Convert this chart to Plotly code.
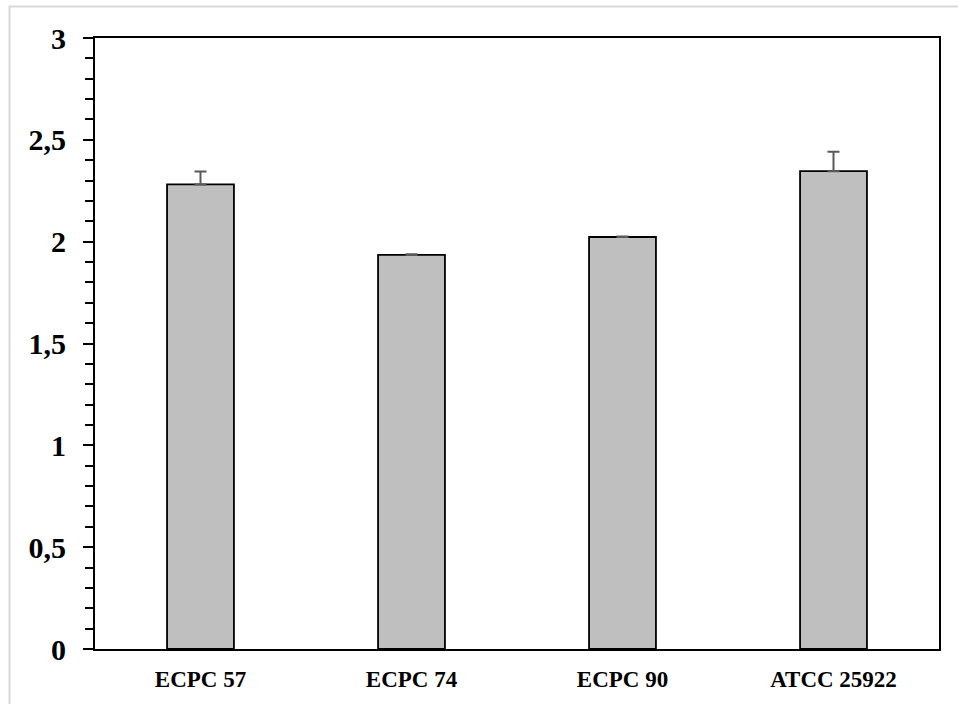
import plotly.graph_objects as go

categories = ["ECPC 57", "ECPC 74", "ECPC 90", "ATCC 25922"]
values = [2.281, 1.935, 2.023, 2.346]
errors = [0.063, 0.003, 0.002, 0.096]
y_tickvals = [0, 0.5, 1, 1.5, 2, 2.5, 3]
y_ticktext = ["0", "0,5", "1", "1,5", "2", "2,5", "3"]

W, H = 958, 704
L, R, T, B = 95, 19, 38, 53
pw, ph = W - L - R, H - T - B

def px_x(p):
    return (p - L) / pw

def px_y(p):
    return (H - B - p) / ph

fig = go.Figure()
fig.add_trace(go.Bar(
    x=categories, y=values,
    marker=dict(color="#BFBFBF", line=dict(color="black", width=1.8)),
    error_y=dict(type="data", symmetric=False, array=errors,
                 arrayminus=[0] * len(errors), color="#595959",
                 thickness=2, width=6),
    width=0.317,
))

fig.update_layout(
    width=W, height=H,
    margin=dict(l=L, r=R, t=T, b=B),
    paper_bgcolor="white", plot_bgcolor="white",
    showlegend=False,
    font=dict(family="Liberation Serif", color="black"),
    xaxis=dict(
        showline=True, linecolor="black", linewidth=2, mirror=True,
        ticks="", showgrid=False,
        tickfont=dict(family="Liberation Serif", size=23, color="black", weight="bold"),
        ticklabelstandoff=8,
    ),
    yaxis=dict(
        range=[0, 3], showline=True, linecolor="black", linewidth=2, mirror=True,
        showgrid=False, zeroline=False,
        tickvals=y_tickvals, ticktext=y_ticktext,
        ticks="outside", ticklen=10, tickwidth=2, tickcolor="black",
        minor=dict(dtick=0.1, ticks="outside", ticklen=8, tickwidth=2, tickcolor="black", showgrid=False),
        tickfont=dict(family="Liberation Serif", size=30, color="black", weight="bold"),
        ticklabelstandoff=11,
    ),
    bargap=0.683,
)

fig.add_shape(type="rect", xref="paper", yref="paper",
              x0=px_x(9.5), x1=px_x(975), y0=px_y(725), y1=px_y(6.5),
              line=dict(color="#D9D9D9", width=2), fillcolor="rgba(0,0,0,0)",
              layer="below")

fig.write_html("out.html")
